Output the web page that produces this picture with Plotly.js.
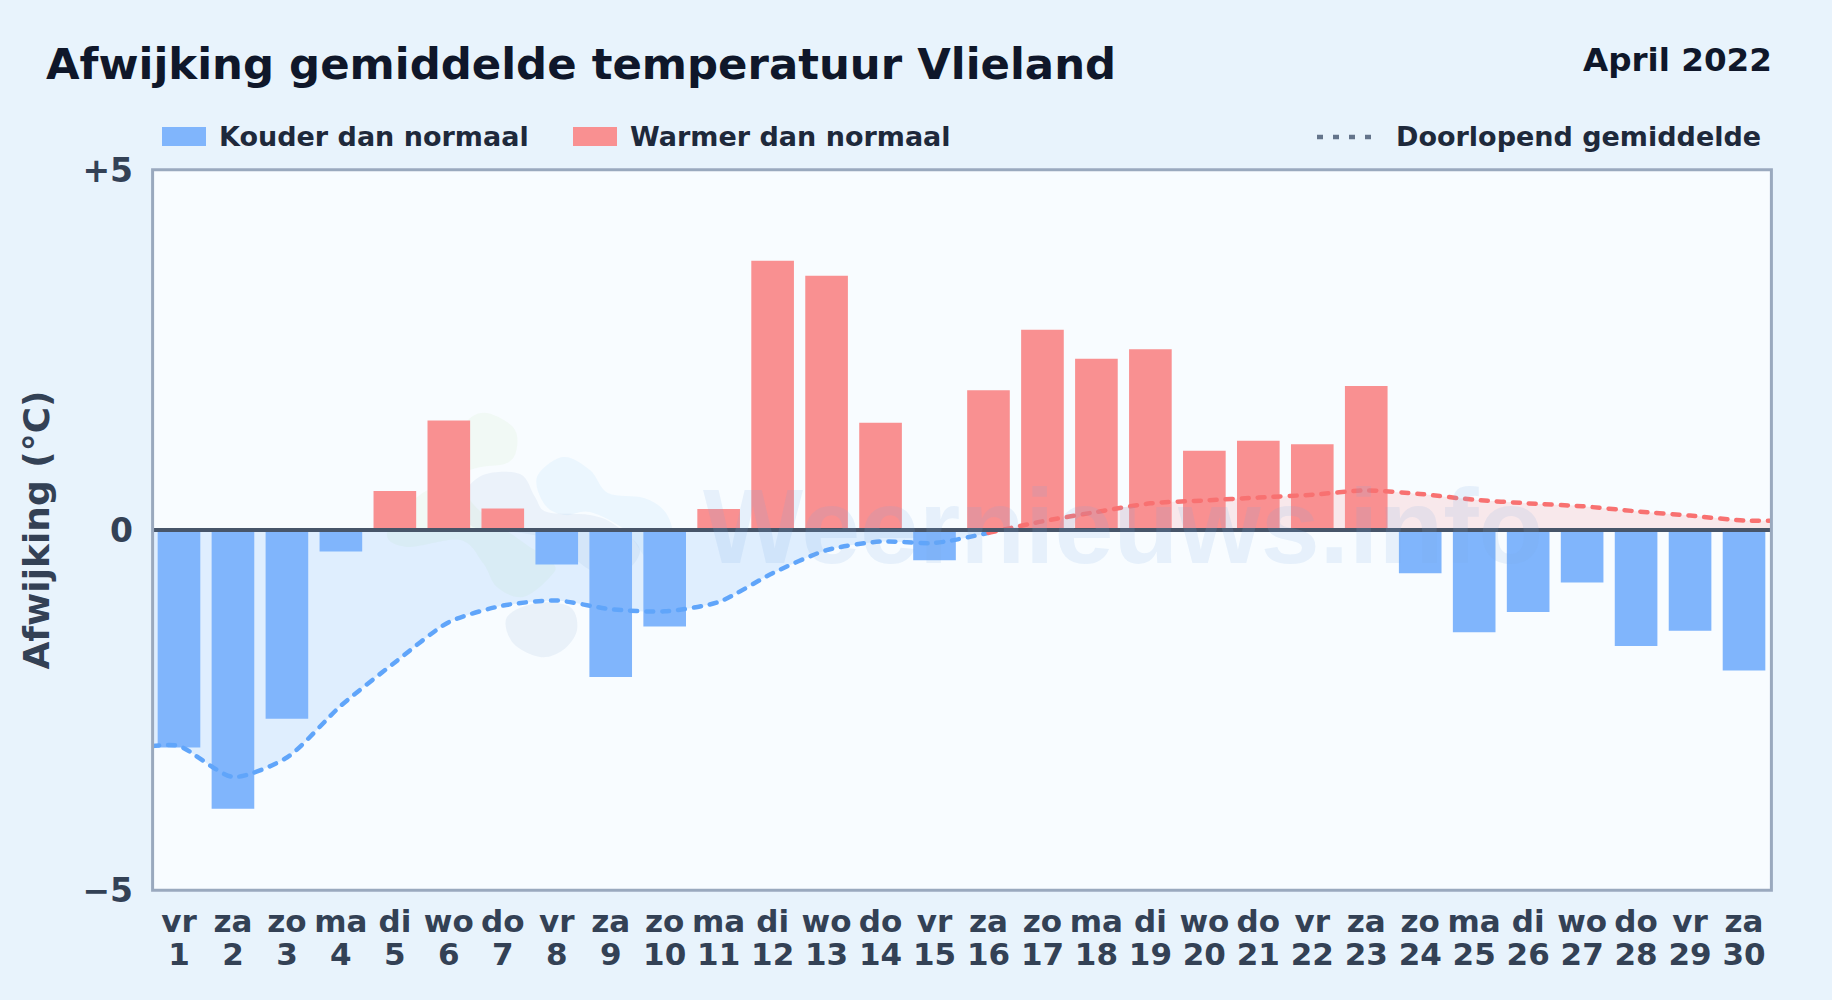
<!DOCTYPE html>
<html><head><meta charset="utf-8">
<script src="https://cdn.plot.ly/plotly-3.0.1.min.js"></script>
<style>
html,body{margin:0;padding:0;background:#e8f3fc;}
#c{width:1832px;height:1000px;}
.js-line{stroke-linecap:round;}
</style></head><body><div id="c"></div>
<script>
const weekdays=['vr','za','zo','ma','di','wo','do','vr','za','zo','ma','di','wo','do','vr','za','zo','ma','di','wo','do','vr','za','zo','ma','di','wo','do','vr','za'];
const days=[1,2,3,4,5,6,7,8,9,10,11,12,13,14,15,16,17,18,19,20,21,22,23,24,25,26,27,28,29,30];
const deviation=[-3.02,-3.87,-2.62,-0.3,0.54,1.52,0.3,-0.48,-2.04,-1.34,0.29,3.74,3.53,1.49,-0.42,1.94,2.78,2.38,2.51,1.1,1.24,1.19,2.0,-0.6,-1.42,-1.14,-0.73,-1.61,-1.4,-1.95];
const meanDaysCold=[0.5,1,2,3,4,5,6,7,8,9,10,11,12,13,14,15,16];
const meanCold=[-3.0,-3.0,-3.43,-3.16,-2.44,-1.84,-1.28,-1.05,-0.98,-1.1,-1.13,-1.0,-0.6,-0.28,-0.16,-0.18,-0.04];
const meanDaysWarm=[16,17,18,19,20,21,22,23,24,25,26,27,28,29,30,30.5];
const meanWarm=[-0.04,0.12,0.25,0.37,0.41,0.45,0.49,0.55,0.5,0.42,0.37,0.33,0.26,0.2,0.13,0.13];
const titleText='Afwijking gemiddelde temperatuur Vlieland';
const periodText='April 2022';
const legendCold='Kouder dan normaal';
const legendWarm='Warmer dan normaal';
const legendMean='Doorlopend gemiddelde';
const yTitle='Afwijking (°C)';
const yTickVals=[-5,0,5];
const yTickText=['−5','0','+5'];

const W=1832,H=1000,L=152,R=1771,T=170,B=890;
const fx=x=>(x-L)/(R-L), fy=y=>(B-y)/(B-T);
const FONT='"DejaVu Sans"';
const BLUE='#80b5fc',RED='#f99091',BLUEL='#60a5fa',REDL='#f87171';

function blob(pts,color){
  const n=pts.length;let d='';
  const P=pts.map(p=>[fx(p[0]),fy(p[1])]);
  d='M'+P[0][0]+','+P[0][1];
  for(let i=0;i<n;i++){
    const p0=P[(i-1+n)%n],p1=P[i],p2=P[(i+1)%n],p3=P[(i+2)%n];
    d+='C'+(p1[0]+(p2[0]-p0[0])/6)+','+(p1[1]+(p2[1]-p0[1])/6)+' '+(p2[0]-(p3[0]-p1[0])/6)+','+(p2[1]-(p3[1]-p1[1])/6)+' '+p2[0]+','+p2[1];
  }
  return {type:'path',xref:'paper',yref:'paper',path:d+'Z',fillcolor:color,line:{width:0},layer:'below'};
}
const logo=[
 blob([[455,445],[468,420],[487,413],[513,427],[517,447],[507,463],[470,470],[417,497],[387,533],[407,547],[460,540],[483,563],[497,587],[523,597],[550,577],[553,563],[520,540],[470,500]],'rgba(190,228,160,0.1)'),
 blob([[463,497],[483,475],[520,474],[535,497],[547,512],[590,515],[615,525],[640,550],[620,575],[590,570],[550,540],[500,530],[470,525]],'rgba(90,130,190,0.08)'),
 blob([[537,477],[563,457],[590,470],[608,493],[644,498],[666,513],[672,540],[650,560],[625,530],[590,512],[565,515],[545,505]],'rgba(125,200,250,0.1)'),
 blob([[507,617],[537,603],[570,607],[577,630],[563,650],[540,657],[513,643]],'rgba(90,130,190,0.09)')
];

const data=[
 {type:'scatter',mode:'none',x:meanDaysCold,y:meanCold,line:{shape:'spline',smoothing:0.7},fill:'tozeroy',fillcolor:'rgba(96,165,250,0.16)',hoverinfo:'skip',showlegend:false},
 {type:'scatter',mode:'none',x:meanDaysWarm,y:meanWarm,line:{shape:'spline',smoothing:0.7},fill:'tozeroy',fillcolor:'rgba(248,113,113,0.14)',hoverinfo:'skip',showlegend:false},
 {type:'bar',x:days,y:deviation,xaxis:'x2',yaxis:'y2',width:0.79,marker:{color:deviation.map(v=>v<0?BLUE:RED),line:{width:0}},name:'Afwijking',showlegend:false},
 {type:'scatter',mode:'lines',x:meanDaysCold,y:meanCold,xaxis:'x2',yaxis:'y2',line:{color:BLUEL,width:4.5,dash:'7px,9px',shape:'spline',smoothing:0.7},name:legendMean,showlegend:false},
 {type:'scatter',mode:'lines',x:meanDaysWarm,y:meanWarm,xaxis:'x2',yaxis:'y2',line:{color:REDL,width:4.5,dash:'7px,9px',shape:'spline',smoothing:0.7},name:legendMean,showlegend:false}
];

function ann(text,xp,yp,xa,size,color,family){
 return {xref:'paper',yref:'paper',x:fx(xp),y:fy(yp),xanchor:xa,yanchor:'middle',text:text,showarrow:false,
  font:{family:family||FONT,size:size,color:color,weight:700}};
}
const tickFont={family:FONT,size:31,color:'#334155',weight:700};
const layout={
 width:W,height:H,autosize:false,
 margin:{l:L,r:W-R,t:T,b:H-B,pad:0},
 paper_bgcolor:'#e8f3fc',plot_bgcolor:'#f8fcff',showlegend:false,
 font:{family:FONT},
 xaxis:{range:[0.5,30.5],tickmode:'array',tickvals:days,ticktext:weekdays,tickangle:0,ticks:'',showgrid:false,zeroline:false,ticklabelstandoff:10,
   showline:false,tickfont:tickFont},
 yaxis:{range:[-5,5],tickmode:'array',tickvals:yTickVals,ticktext:yTickText,ticks:'',showgrid:false,zeroline:false,ticklabelstandoff:18,
   showline:false,tickfont:{family:FONT,size:33,color:'#334155',weight:700},
   title:{text:yTitle,standoff:21,font:{family:FONT,size:36,color:'#334155',weight:700}}},
 xaxis2:{overlaying:'x',range:[0.5,30.5],anchor:'y2',side:'bottom',tickmode:'array',tickvals:days,ticktext:days.map(String),tickangle:0,ticks:'',showgrid:false,zeroline:false,showline:false,ticklabelstandoff:43,tickfont:tickFont},
 yaxis2:{overlaying:'y',range:[-5,5],visible:false,anchor:'x2'},
 shapes:[
  {type:'line',xref:'paper',yref:'y',x0:0,x1:1,y0:0,y1:0,line:{color:'#475569',width:4},layer:'above'},
  {type:'rect',xref:'paper',yref:'paper',x0:fx(152.6),x1:fx(1771.4),y0:fy(890.3),y1:fy(169.7),line:{color:'#9aa9be',width:3},layer:'above'},
  {type:'rect',xref:'paper',yref:'paper',x0:fx(162),x1:fx(206),y0:fy(127),y1:fy(146),fillcolor:BLUE,line:{width:0}},
  {type:'rect',xref:'paper',yref:'paper',x0:fx(573),x1:fx(617),y0:fy(127),y1:fy(146),fillcolor:RED,line:{width:0}},
  {type:'line',xref:'paper',yref:'paper',x0:fx(1317),x1:fx(1374),y0:fy(137),y1:fy(137),line:{color:'#64748b',width:4.5,dash:'6px,10px'}},
  ...logo
 ],
 annotations:[
  ann(titleText,44,64,'left',43.4,'#0f172a'),
  ann(periodText,1774,60,'right',32.6,'#0f172a'),
  ann(legendCold,217,137,'left',27,'#1e293b'),
  ann(legendWarm,628,137,'left',27,'#1e293b'),
  ann(legendMean,1763,137,'right',27,'#1e293b'),
  {xref:'paper',yref:'paper',x:fx(701),y:fy(526),xanchor:'left',yanchor:'middle',text:'Weernieuws.info',showarrow:false,
   font:{family:'"Liberation Sans"',size:106,color:'rgba(120,170,230,0.14)',weight:700}}
 ]
};
Plotly.newPlot('c',data,layout,{displayModeBar:false,staticPlot:true});
</script></body></html>
